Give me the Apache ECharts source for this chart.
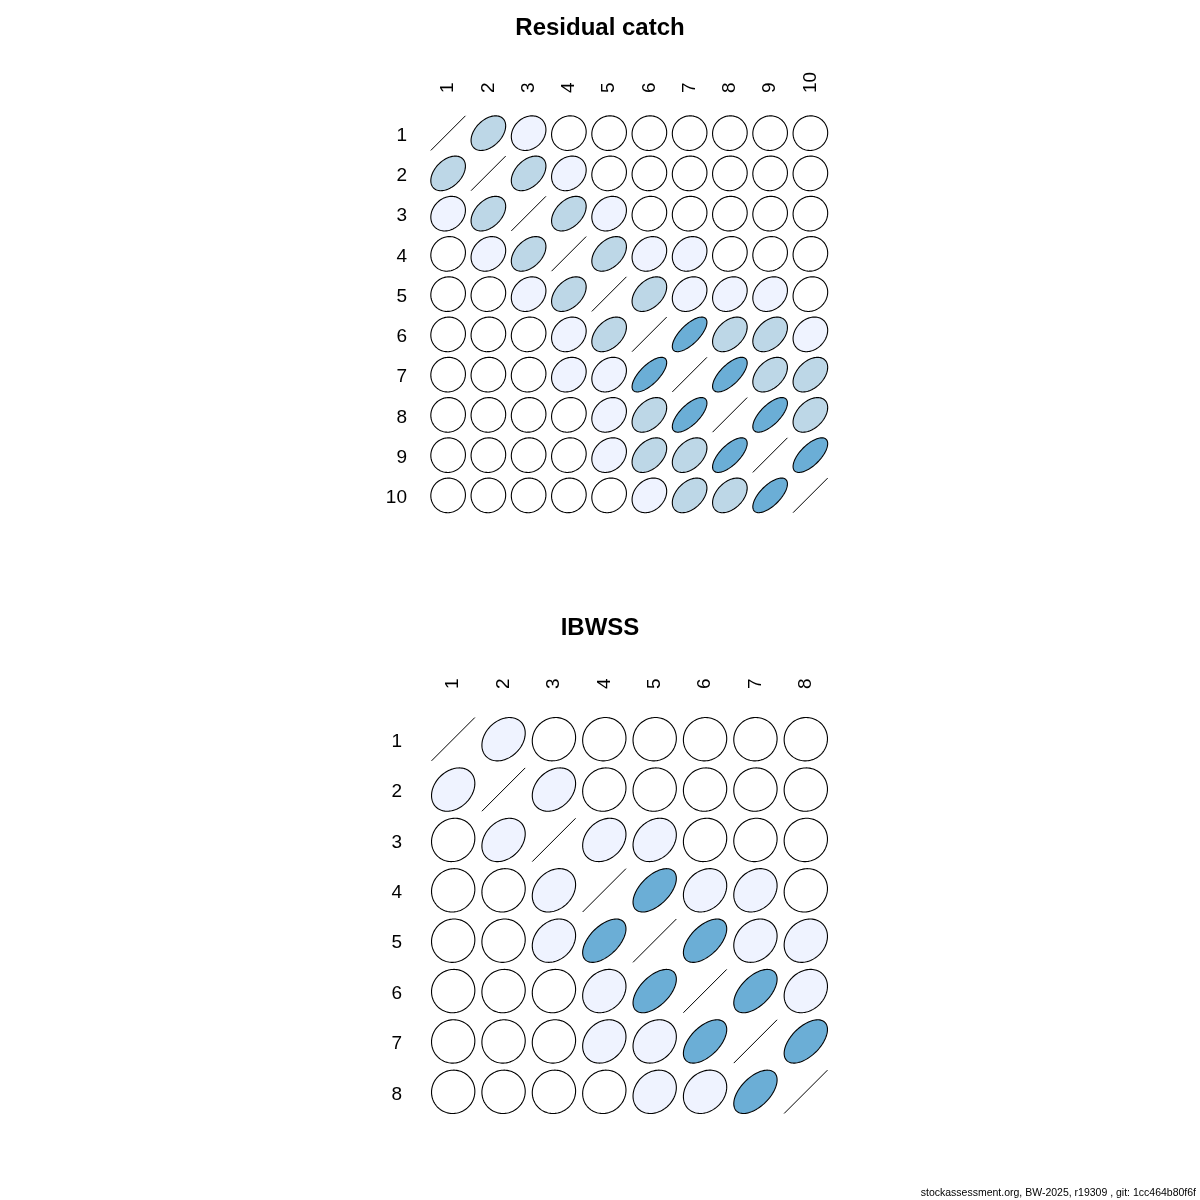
<!DOCTYPE html>
<html>
<head>
<meta charset="utf-8">
<script src="https://cdn.jsdelivr.net/npm/echarts@6/dist/echarts.min.js"></script>
<style>html,body{margin:0;padding:0;background:#fff}#chart{width:1200px;height:1200px}</style>
</head>
<body>
<div id="chart"></div>
<script>
// ---- data ----
const residualLabels = ['1','2','3','4','5','6','7','8','9','10'];
const residualCorr = [
  [1, 0.42, 0.2, 0.08, 0.05, 0.04, 0.03, 0.03, 0.02, 0.02],
  [0.42, 1, 0.42, 0.2, 0.08, 0.05, 0.04, 0.03, 0.03, 0.02],
  [0.2, 0.42, 1, 0.42, 0.2, 0.08, 0.06, 0.05, 0.04, 0.03],
  [0.08, 0.2, 0.42, 1, 0.42, 0.2, 0.18, 0.1, 0.08, 0.05],
  [0.05, 0.08, 0.2, 0.42, 1, 0.42, 0.24, 0.22, 0.22, 0.12],
  [0.04, 0.05, 0.08, 0.2, 0.42, 1, 0.7, 0.42, 0.4, 0.24],
  [0.03, 0.04, 0.06, 0.18, 0.24, 0.7, 1, 0.68, 0.42, 0.42],
  [0.03, 0.03, 0.05, 0.1, 0.22, 0.42, 0.68, 1, 0.68, 0.42],
  [0.02, 0.03, 0.04, 0.08, 0.22, 0.4, 0.42, 0.68, 1, 0.66],
  [0.02, 0.02, 0.03, 0.05, 0.12, 0.24, 0.42, 0.42, 0.66, 1]
];
const ibwssLabels = ['1','2','3','4','5','6','7','8'];
const ibwssCorr = [
  [1, 0.28, 0.08, 0.05, 0.04, 0.03, 0.02, 0.02],
  [0.28, 1, 0.28, 0.08, 0.05, 0.04, 0.03, 0.02],
  [0.08, 0.28, 1, 0.26, 0.24, 0.08, 0.05, 0.04],
  [0.05, 0.08, 0.26, 1, 0.55, 0.22, 0.22, 0.08],
  [0.04, 0.05, 0.24, 0.55, 1, 0.55, 0.22, 0.2],
  [0.03, 0.04, 0.08, 0.22, 0.55, 1, 0.55, 0.22],
  [0.02, 0.03, 0.05, 0.22, 0.22, 0.55, 1, 0.55],
  [0.02, 0.02, 0.04, 0.08, 0.2, 0.22, 0.55, 1]
];
const titles = ['Residual catch', 'IBWSS'];
const footer = 'stockassessment.org, BW-2025, r19309 , git: 1cc464b80f6f';

// ---- helpers ----
const FONT = "'Liberation Sans', Arial, Helvetica, sans-serif";
function corrColor(r) {
  const a = Math.abs(r);
  if (a < 0.15) return '#FFFFFF';
  if (a < 0.35) return '#EFF3FF';
  if (a < 0.5) return '#BDD7E7';
  if (a < 0.75) return '#6BAED6';
  return '#3182BD';
}
function toItems(mat) {
  const out = [];
  mat.forEach((row, i) => row.forEach((r, j) => out.push([j, i, r])));
  return out;
}
function renderEllipse(params, api) {
  const c = api.coord([api.value(0), api.value(1)]);
  const s = api.size([1, 1]);
  const r = api.value(2);
  const t = 0.43;
  if (r >= 0.999) {
    return { type: 'polyline', shape: { points: [[c[0] - t*s[0], c[1] + t*s[1]], [c[0] + t*s[0], c[1] - t*s[1]]] },
             style: { stroke: '#000', lineWidth: 1, fill: null } };
  }
  const d = Math.acos(Math.max(-1, Math.min(1, r)));
  const n = 100;
  const pts = [];
  for (let k = 0; k < n; k++) {
    const a = 2 * Math.PI * k / (n - 1);
    pts.push([c[0] + t * s[0] * Math.cos(a + d / 2), c[1] - t * s[1] * Math.cos(a - d / 2)]);
  }
  return { type: 'polygon', shape: { points: pts },
           style: { fill: corrColor(r), stroke: '#000', lineWidth: 1.1 } };
}

const grids = [
  { left: 428, top: 113, width: 402.5, height: 402.5 },
  { left: 428, top: 714, width: 403, height: 403 }
];
const labelSets = [residualLabels, ibwssLabels];
const mats = [residualCorr, ibwssCorr];
const xMargins = [20, 25];
const yMargins = [21, 26];

const option = {
  backgroundColor: '#fff',
  animation: false,
  title: titles.map((tx, i) => ({
    text: tx, left: 'center', top: i === 0 ? 11 : 611,
    textStyle: { fontFamily: FONT, fontSize: 24, fontWeight: 'bold', color: '#000' }
  })),
  grid: grids,
  xAxis: labelSets.map((labs, i) => ({
    type: 'category', gridIndex: i, data: labs, position: 'top',
    axisLine: { show: false }, axisTick: { show: false }, splitLine: { show: false },
    axisLabel: { rotate: -90, margin: xMargins[i], fontFamily: FONT, fontSize: 19, color: '#000', interval: 0 }
  })),
  yAxis: labelSets.map((labs, i) => ({
    type: 'category', gridIndex: i, data: labs, inverse: true,
    axisLine: { show: false }, axisTick: { show: false }, splitLine: { show: false },
    axisLabel: {
      margin: yMargins[i], interval: 0,
      formatter: v => '{a|' + v + '}',
      rich: { a: { fontFamily: FONT, fontSize: 19, color: '#000', padding: [5, 0, 0, 0] } }
    }
  })),
  series: mats.map((m, i) => ({
    type: 'custom', xAxisIndex: i, yAxisIndex: i, data: toItems(m),
    renderItem: renderEllipse, silent: true
  })),
  graphic: [{
    type: 'text', right: 4, bottom: 1,
    style: { text: footer, fontFamily: FONT, fontSize: 10.5, fill: '#000' }
  }]
};
const chart = echarts.init(document.getElementById('chart'), null, { renderer: 'canvas' });
chart.setOption(option);
</script>
</body>
</html>
